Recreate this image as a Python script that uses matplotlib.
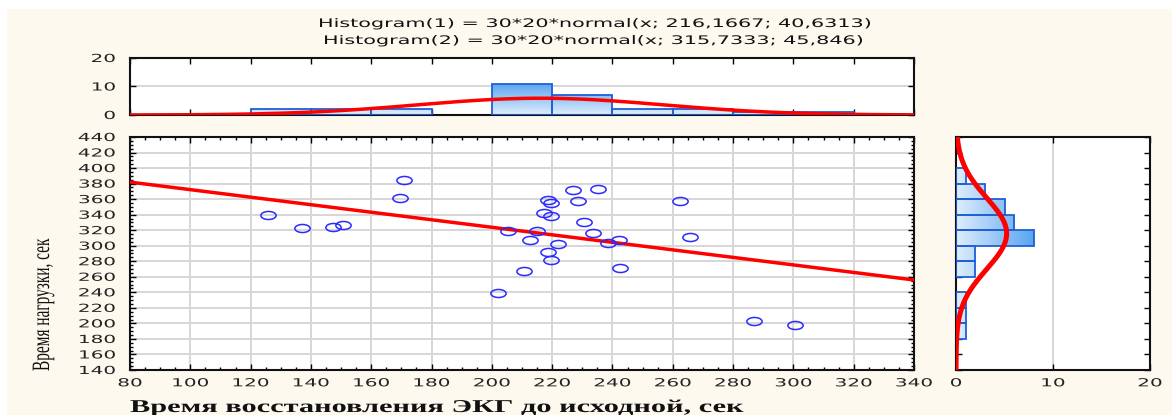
import numpy as np
import matplotlib
matplotlib.use("Agg")
import matplotlib.pyplot as plt
from matplotlib.patches import Rectangle
from matplotlib.path import Path
from matplotlib.transforms import Affine2D
from matplotlib.patheffects import AbstractPathEffect
from matplotlib.colors import LinearSegmentedColormap
from matplotlib.ticker import MultipleLocator

# ECG recovery time (x) vs. load time (y), seconds, 30 subjects
recovery = np.array([201.9, 205.4, 210.7, 212.6, 215.0, 217.2, 218.7, 219.6,
                     219.5, 218.7, 219.7, 222.0, 226.9, 228.7, 230.6, 233.7,
                     235.2, 238.6, 242.1, 242.5, 262.4, 265.6, 286.9, 300.7,
                     125.9, 137.1, 147.4, 150.8, 169.6, 170.8])
load = np.array([239.0, 319.2, 268.0, 306.8, 319.5, 342.4, 359.5, 355.0,
                 337.7, 292.0, 281.9, 302.5, 372.0, 357.0, 330.0, 316.2,
                 373.0, 303.3, 308.0, 271.5, 357.0, 311.5, 203.6, 197.6,
                 339.9, 322.7, 323.5, 326.1, 361.4, 384.1])

# fitted normal parameters shown in the title
mean1, sd1 = 216.1667, 40.6313
mean2, sd2 = 315.7333, 45.846
n_obs, bin_w = 30, 20

title1 = "Histogram(1) = 30*20*normal(x; 216,1667; 40,6313)"
title2 = "Histogram(2) = 30*20*normal(x; 315,7333; 45,846)"
xlabel = "Время восстановления ЭКГ до исходной, сек"
ylabel = "Время нагрузки, сек"

W, H = 1172, 415
BG = "#fdf9ef"
BAR_EDGE = "#1f5fd8"
GRID = "#d6d6d6"
bar_cmap = LinearSegmentedColormap.from_list("bars", ["#dfedfc", "#5aa5f0"])


class Stretch(AbstractPathEffect):
    """Draw text stretched horizontally (the source image is widened)."""

    def __init__(self, sx=1.0, width=None, anchor="left"):
        super().__init__()
        self.sx, self.width, self.anchor = sx, width, anchor

    def draw_path(self, renderer, gc, tpath, affine, rgbFace=None):
        ext = tpath.get_extents()
        sx = self.sx
        if self.width is not None:
            m = affine.get_matrix()
            s = np.hypot(m[0, 0], m[1, 0])
            sx = self.width / ((ext.x1 - ext.x0) * s)
        c = {"left": 0.0, "center": (ext.x0 + ext.x1) / 2,
             "right": ext.x1}[self.anchor]
        t = Affine2D().translate(-c, 0).scale(sx, 1).translate(c, 0)
        renderer.draw_path(gc, tpath, t + affine, rgbFace)


def box(left, top, right, bottom):
    return [left / W, 1 - bottom / H, (right - left) / W, (bottom - top) / H]


def normal(v, mu, sd):
    return n_obs * bin_w * np.exp(-0.5 * ((v - mu) / sd) ** 2) / (sd * np.sqrt(2 * np.pi))


def gradient_bars(ax, edges, counts, horizontal=False):
    top = counts.max()
    if horizontal:
        bars = ax.barh(edges[:-1], counts, height=bin_w, align="edge",
                       fc="none", ec=BAR_EDGE, lw=1.3, zorder=3)
    else:
        bars = ax.bar(edges[:-1], counts, width=bin_w, align="edge",
                      fc="none", ec=BAR_EDGE, lw=1.3, zorder=3)
    for lo, n, patch in zip(edges[:-1], counts, bars):
        if n == 0:
            patch.set_visible(False)
            continue
        g = np.linspace(0, n / top, 64)
        if horizontal:
            im = ax.imshow(g.reshape(1, -1), extent=(0, n, lo, lo + bin_w),
                           origin="lower", aspect="auto", cmap=bar_cmap,
                           vmin=0, vmax=1, zorder=2)
        else:
            im = ax.imshow(g.reshape(-1, 1), extent=(lo, lo + bin_w, 0, n),
                           origin="lower", aspect="auto", cmap=bar_cmap,
                           vmin=0, vmax=1, zorder=2)
        im.set_clip_path(patch)


def style(ax):
    ax.set_facecolor("white")
    for sp in ax.spines.values():
        sp.set_linewidth(1.5)
        sp.set_color("#111111")
    ax.tick_params(which="both", direction="in", top=True, right=True,
                   width=1.0, labelsize=8, labelcolor="#222222")
    ax.tick_params(which="major", length=4)
    ax.tick_params(which="minor", length=2)


def stretch_ticks(ax):
    for lab in ax.get_xticklabels():
        lab.set_path_effects([Stretch(1.8, anchor="center")])
    for lab in ax.get_yticklabels():
        lab.set_path_effects([Stretch(1.8, anchor="right")])


fig = plt.figure(figsize=(W / 100, H / 100), dpi=100, facecolor="white")
fig.patches.append(Rectangle((7 / W, 0), 1, 1 - 9 / H, transform=fig.transFigure,
                             fc=BG, ec="none", zorder=-10))

x_edges = np.arange(80, 341, bin_w)
y_edges = np.arange(140, 441, bin_w)
x_counts, _ = np.histogram(recovery, bins=x_edges)
y_counts, _ = np.histogram(load, bins=y_edges)

# main scatter
ax = fig.add_axes(box(130, 137, 914, 370))
style(ax)
ell = Path(Path.unit_circle().vertices * [1.9, 1.0], Path.unit_circle().codes)
ax.plot(recovery, load, ls="none", marker=ell, ms=11, mfc="none",
        mec="#2b2bff", mew=1.1, zorder=4)
slope, icpt = np.polyfit(recovery, load, 1)
xs = np.array([80, 340])
ax.plot(xs, slope * xs + icpt, color="red", lw=2.5, zorder=3)
ax.set_xlim(80, 340)
ax.set_ylim(140, 440)
ax.set_xticks(x_edges)
ax.set_yticks(y_edges)
ax.xaxis.set_minor_locator(MultipleLocator(5))
ax.yaxis.set_minor_locator(MultipleLocator(5))
ax.tick_params(axis="y", which="major", pad=10.5)
ax.tick_params(axis="x", which="major", pad=6)
ax.grid(True, which="major", color=GRID, lw=1.4)
ax.set_axisbelow(True)
stretch_ticks(ax)

# top histogram
axt = fig.add_axes(box(130, 58, 914, 115))
style(axt)
gradient_bars(axt, x_edges, x_counts)
xx = np.linspace(80, 340, 300)
axt.plot(xx, normal(xx, mean1, sd1), color="red", lw=2.5, zorder=4)
axt.set_xlim(80, 340)
axt.set_ylim(0, 20)
axt.set_xticks(x_edges)
axt.set_yticks([0, 10, 20])
axt.tick_params(axis="x", labelbottom=False)
axt.tick_params(axis="y", pad=10.5)
axt.grid(True, axis="y", color=GRID, lw=1.4)
axt.set_axisbelow(True)
stretch_ticks(axt)

# right histogram
axr = fig.add_axes(box(956, 137, 1150, 370))
style(axr)
gradient_bars(axr, y_edges, y_counts, horizontal=True)
yy = np.linspace(140, 440, 300)
axr.plot(normal(yy, mean2, sd2), yy, color="red", lw=3.6, zorder=4)
axr.set_xlim(0, 20)
axr.set_ylim(140, 440)
axr.set_xticks([0, 10, 20])
axr.set_yticks(y_edges)
axr.tick_params(axis="y", labelleft=False)
axr.tick_params(axis="x", pad=6)
axr.grid(True, axis="x", color=GRID, lw=1.4)
axr.set_axisbelow(True)
stretch_ticks(axr)

# texts
fig.text(318 / W, 1 - 27 / H, title1, ha="left", va="baseline", fontsize=8.5,
         color="#111111", path_effects=[Stretch(width=550)])
fig.text(323 / W, 1 - 44 / H, title2, ha="left", va="baseline", fontsize=8.5,
         color="#111111", path_effects=[Stretch(width=537)])
fig.text(130 / W, 1 - 412 / H, xlabel, ha="left", va="baseline",
         family="Liberation Serif", weight="bold", fontsize=13,
         color="#111111", path_effects=[Stretch(width=613)])
fig.text(43 / W, 1 - 371 / H, ylabel, rotation=90, ha="center", va="bottom",
         family="Liberation Serif", fontsize=18, color="#111111",
         path_effects=[Stretch(width=132)])

fig.savefig("out.png", dpi=100, facecolor=fig.get_facecolor())
